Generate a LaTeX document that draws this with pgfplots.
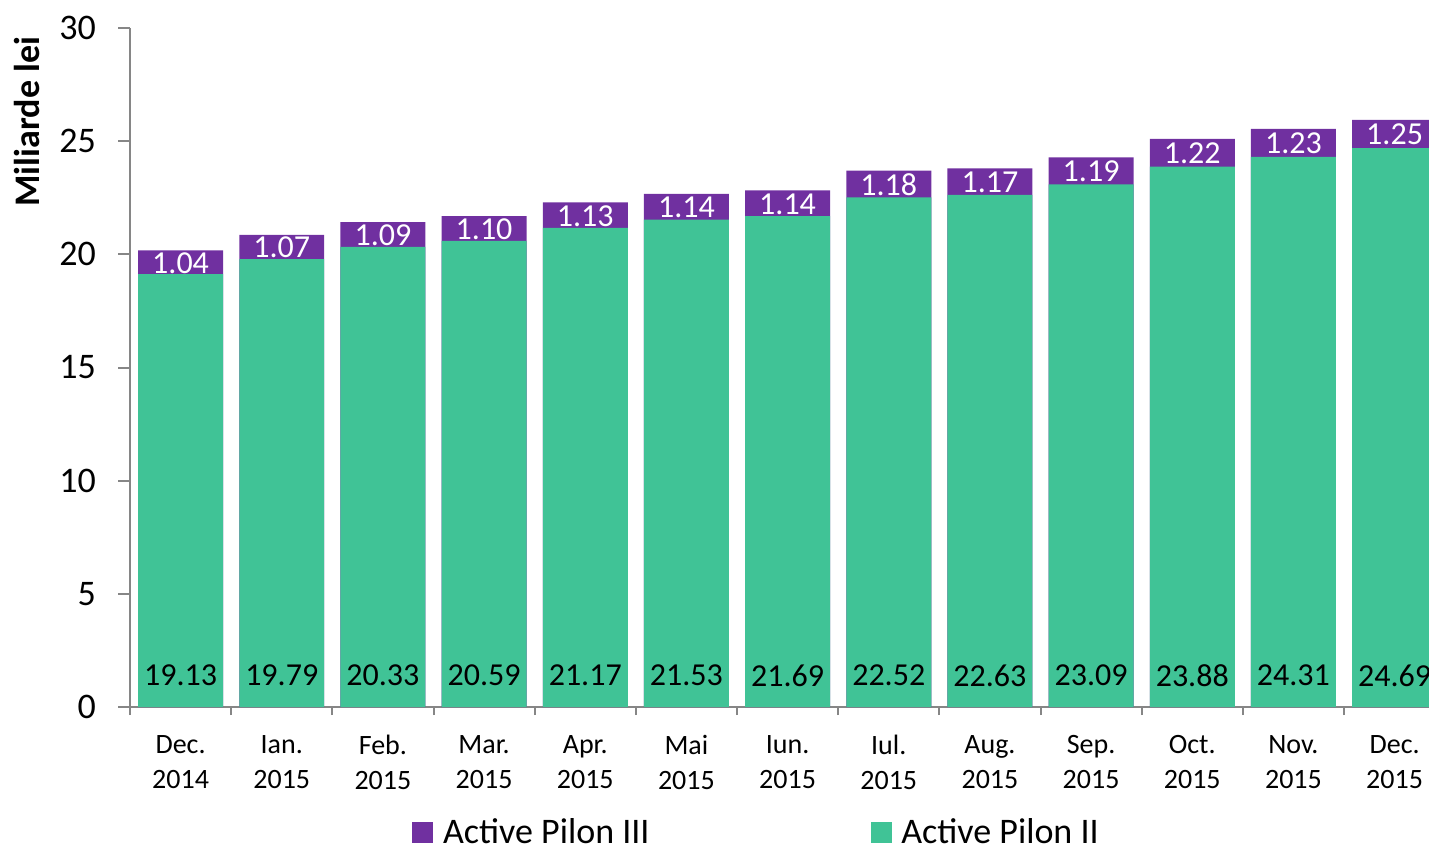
\documentclass[border=0pt]{standalone}
\usepackage{pgfplots}
\pgfplotsset{compat=1.18}
\usepackage{fontspec}
\setmainfont{Carlito}
\definecolor{pgreen}{HTML}{40C396}
\definecolor{ppurple}{HTML}{7030A0}
\definecolor{axgray}{HTML}{868686}
\begin{document}
\begin{tikzpicture}
\useasboundingbox (-65pt,-70.5pt) rectangle (649.5pt,353.5pt);
\begin{axis}[
  at={(0pt,0pt)}, anchor=south west,
  scale only axis, width=649.5pt, height=339.5pt,
  xmin=-0.5, xmax=12.34, ymin=0, ymax=30,
  axis x line*=bottom, axis y line*=left,
  axis line style={axgray, line width=1pt},
  clip=true,
  tick align=outside,
  ytick={0,5,...,30},
  major tick length=6pt,
  y tick style={axgray, line width=1pt},
  xtick={0,...,12},
  xticklabels={{Dec.\\2014},{Ian.\\2015},{Feb.\\2015},{Mar.\\2015},{Apr.\\2015},{Mai\\2015},{Iun.\\2015},{Iul.\\2015},{Aug.\\2015},{Sep.\\2015},{Oct.\\2015},{Nov.\\2015},{Dec.\\2015}},
  major x tick style={draw=none},
  minor xtick={-0.5,0.5,...,11.5},
  minor tick length=4pt,
  minor x tick style={axgray, line width=1pt},
  /pgf/number format/assume math mode=true,
  yticklabel style={font=\fontsize{18}{21}\selectfont, text=black, xshift=-7.5pt},
  xticklabel style={font=\fontsize{14}{17.5}\selectfont, align=center, text=black, yshift=-4.5pt},
  every axis y label/.style={at={(axis description cs:-0.079,0.862)}, rotate=90, anchor=center, font=\fontsize{18}{21}\bfseries\selectfont},
  ylabel={Miliarde lei},
  legend columns=2,
  legend style={at={(axis description cs:0.217,-0.185)}, anchor=west, draw=none, inner sep=0pt, font=\fontsize{18}{21}\selectfont,
    /tikz/every even column/.append style={column sep=105.5pt},
    /tikz/every odd column/.append style={column sep=0pt},
    nodes={inner xsep=5pt, inner ysep=0pt}},
  legend image code/.code={\fill[#1] (0pt,-5pt) rectangle (10pt,5pt);},
]
% total (Pilon II + Pilon III), drawn first
\addplot[ybar, bar width=0.84, bar shift=0pt, fill=ppurple, draw=none, forget plot] coordinates {
(0,20.17) (1,20.86) (2,21.42) (3,21.69) (4,22.30) (5,22.67) (6,22.83) (7,23.70) (8,23.80) (9,24.28) (10,25.10) (11,25.54) (12,25.94)};
% Pilon II
\addplot[ybar, bar width=0.84, bar shift=0pt, fill=pgreen, draw=none, forget plot] coordinates {
(0,19.13) (1,19.79) (2,20.33) (3,20.59) (4,21.17) (5,21.53) (6,21.69) (7,22.52) (8,22.63) (9,23.09) (10,23.88) (11,24.31) (12,24.69)};
% labels Pilon II
\addplot[draw=none, mark=none, forget plot, nodes near coords, point meta=explicit symbolic,
  every node near coord/.append style={anchor=center, font=\fontsize{16}{19}\selectfont, text=black}] table[meta=l] {
x y l
0 1.4 19.13
1 1.4 19.79
2 1.4 20.33
3 1.4 20.59
4 1.4 21.17
5 1.4 21.53
6 1.4 21.69
7 1.4 22.52
8 1.4 22.63
9 1.4 23.09
10 1.4 23.88
11 1.4 24.31
12 1.4 24.69
};
% labels Pilon III
\addplot[draw=none, mark=none, forget plot, nodes near coords, point meta=explicit symbolic,
  every node near coord/.append style={anchor=center, font=\fontsize{16}{19}\selectfont, text=white}] table[meta=l] {
x y l
0 19.62 1.04
1 20.30 1.07
2 20.85 1.09
3 21.11 1.10
4 21.70 1.13
5 22.07 1.14
6 22.23 1.14
7 23.08 1.18
8 23.19 1.17
9 23.66 1.19
10 24.46 1.22
11 24.90 1.23
12 25.29 1.25
};
\addlegendimage{ppurple}
\addlegendentry{Active Pilon III}
\addlegendimage{pgreen}
\addlegendentry{Active Pilon II}
\end{axis}
\end{tikzpicture}
\end{document}
